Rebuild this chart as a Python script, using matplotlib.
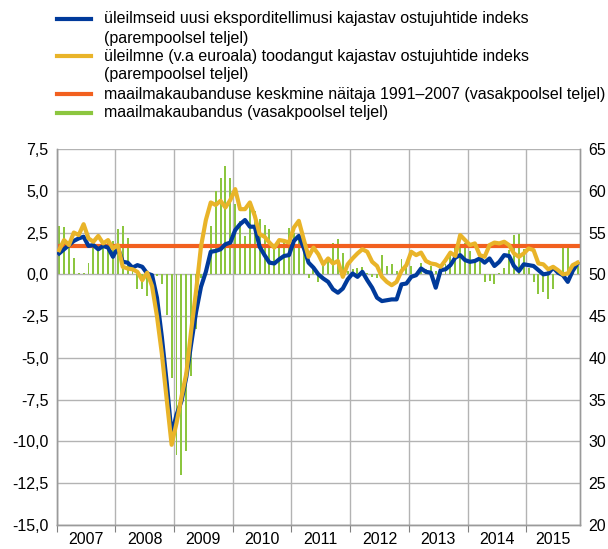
import numpy as np
import matplotlib
matplotlib.use("Agg")
import matplotlib.pyplot as plt
from matplotlib.lines import Line2D

plt.rcParams['font.family'] = ['Liberation Sans', 'DejaVu Sans']

# monthly data, Jan 2007 - Nov 2015
years = ["2007", "2008", "2009", "2010", "2011", "2012", "2013", "2014", "2015"]

# world trade (left axis)
trade = [2.9, 2.85, 1.7, 1.0, 0.1, 0.1, 0.7, 1.7, 1.5, 1.8, 2.0, 2.0,
         2.7, 2.9, 2.2, 0.5, -0.85, -0.85, -1.3, -0.2, -0.1, -0.55, -2.45, -6.2,
         -10.8, -12.0, -10.6, -6.1, -3.3, -0.2, 0.4, 2.9, 5.0, 5.75, 6.5, 5.75,
         4.2, 3.2, 2.3, 4.4, 3.8, 3.3, 2.95, 2.7, 1.6, 2.0, 2.0, 2.75,
         2.5, 2.1, 1.7, -0.2, 0.35, -0.45, 0.6, 1.0, 1.85, 2.1, 1.25, 0.2,
         0.3, 0.4, 0.45, 0.1, -0.15, -0.2, 1.15, 0.5, 0.6, 0.2, 0.9, 0.6,
         0.5, 0.1, 0.65, 0.3, 0.5, 0.2, 0.3, 0.6, 1.2, 1.75, 1.55, 1.85,
         1.4, 0.8, 1.2, -0.45, -0.4, -0.55, 0.1, 0.4, 1.45, 2.35, 2.4, 1.5,
         0.4, -0.45, -1.15, -1.05, -1.5, -0.9, 0.2, 1.8, 1.6, 0.3, 0.5]

# average world trade 1991-2007 (left axis)
trade_avg = 1.7

# PMI new export orders (right axis)
pmi_export = [52.5, 53.0, 53.5, 54.0, 54.3, 54.5, 53.4, 53.5, 53.0, 53.4, 53.2, 52.1,
              53.2, 51.5, 51.4, 50.8, 51.1, 50.9, 50.1, 49.9, 47.2, 42.5, 37.0, 30.8,
              33.2, 34.8, 37.7, 41.7, 45.5, 48.5, 50.3, 52.7, 52.8, 53.0, 53.6, 53.8,
              55.3, 56.0, 56.5, 55.7, 55.7, 53.3, 52.3, 51.4, 51.3, 51.8, 52.2, 52.3,
              54.0, 54.6, 53.2, 51.4, 50.8, 50.0, 49.5, 49.1, 48.2, 47.8, 48.3, 49.4,
              50.1, 49.7, 50.3, 49.3, 48.4, 47.2, 46.8, 46.9, 47.0, 47.0, 48.8, 48.9,
              49.7, 49.9, 50.7, 50.3, 50.2, 48.4, 50.5, 50.6, 51.1, 52.0, 52.3, 51.7,
              51.5, 51.6, 51.9, 51.4, 51.9, 51.0, 51.5, 52.3, 52.2, 51.0, 50.4, 51.2,
              51.1, 51.0, 50.5, 50.0, 50.1, 50.8, 50.2, 49.9, 49.1, 50.4, 51.3]

# PMI output excl. euro area (right axis)
pmi_output = [52.9, 54.1, 53.5, 55.0, 54.7, 56.0, 54.3, 53.9, 54.6, 53.7, 54.1, 53.1,
              53.5, 50.9, 50.7, 50.6, 50.3, 49.3, 50.2, 48.6, 45.0, 40.5, 35.0, 29.6,
              32.2, 35.3, 38.1, 43.3, 48.0, 53.3, 56.5, 58.6, 58.3, 58.8, 58.0, 58.9,
              60.2, 57.8, 57.8, 58.6, 57.0, 54.8, 54.5, 53.8, 53.2, 54.1, 54.0, 53.8,
              55.6, 56.4, 54.2, 52.1, 53.2, 52.4, 51.2, 51.9, 51.3, 51.6, 49.7, 51.2,
              51.9, 52.5, 53.0, 52.7, 51.5, 51.0, 49.7, 49.1, 48.7, 49.1, 50.4, 51.1,
              52.7, 52.3, 52.6, 51.6, 51.3, 51.2, 50.9, 51.7, 52.6, 52.2, 54.7, 54.1,
              53.5, 53.7, 52.3, 52.1, 53.5, 53.8, 53.7, 53.9, 53.5, 52.5, 52.1, 52.5,
              53.1, 52.9, 51.3, 51.2, 50.6, 50.9, 50.5, 50.0, 50.1, 51.1, 51.4]

left_ticks = [-15, -12.5, -10, -7.5, -5, -2.5, 0, 2.5, 5, 7.5]
left_labels = ["-15,0", "-12,5", "-10,0", "-7,5", "-5,0", "-2,5", "0,0", "2,5", "5,0", "7,5"]
right_ticks = [20, 25, 30, 35, 40, 45, 50, 55, 60, 65]

legend_labels = [
    "üleilmseid uusi eksporditellimusi kajastav ostujuhtide indeks\n(parempoolsel teljel)",
    "üleilmne (v.a euroala) toodangut kajastav ostujuhtide indeks\n(parempoolsel teljel)",
    "maailmakaubanduse keskmine näitaja 1991–2007 (vasakpoolsel teljel)",
    "maailmakaubandus (vasakpoolsel teljel)",
]

c_blue = "#003a9b"
c_yellow = "#e9b429"
c_orange = "#f2601f"
c_green = "#8cc63f"
c_grid = "#b3b3b3"

fs = 11.5
n = len(trade)
x = np.arange(n)

fig = plt.figure(figsize=(6.08, 5.49), dpi=100)
ax = fig.add_axes([56.7 / 608, 1 - 525 / 549, (580 - 56.7) / 608, (525 - 149) / 549])
ax2 = ax.twinx()

ax.bar(x, trade, width=0.4, color=c_green, zorder=2)
ax.axhline(trade_avg, color=c_orange, lw=3, zorder=3)
ax2.plot(x, pmi_export, color=c_blue, lw=3, solid_joinstyle="round", zorder=4)
ax2.plot(x, pmi_output, color=c_yellow, lw=3, solid_joinstyle="round", zorder=5)

ax.set_xlim(-0.5, n - 0.5)
ax.set_ylim(-15, 7.5)
ax2.set_ylim(20, 65)

ax.set_yticks(left_ticks)
ax.set_yticklabels(left_labels, fontsize=fs)
ax2.set_yticks(right_ticks)
ax2.set_yticklabels([str(t) for t in right_ticks], fontsize=fs)

bounds = np.arange(len(years)) * 12 - 0.5
centers = [(b + min(b + 12, n - 0.5)) / 2 for b in bounds]
ax.set_xticks(bounds)
ax.set_xticklabels([])
ax.set_xticks(centers, minor=True)
ax.set_xticklabels(years, minor=True, fontsize=fs)
ax.tick_params(axis="x", which="major", length=5, color="#808080", direction="out")
ax.tick_params(axis="x", which="minor", length=0, pad=5)
ax.tick_params(axis="y", length=0, pad=6)
ax2.tick_params(axis="y", length=0, pad=6)

ax.grid(True, axis="both", which="major", color=c_grid, lw=1, zorder=0)
ax.set_axisbelow(True)

for a in (ax, ax2):
    a.spines["top"].set_visible(False)
    for s in ("left", "right", "bottom"):
        a.spines[s].set_color("#9a9a9a")
        a.spines[s].set_linewidth(1)

# legend, drawn by hand: one handle per entry, label lines 19 px apart
rows = [19, 56, 94, 113]
colors = [c_blue, c_yellow, c_orange, c_green]
for r, c, lab in zip(rows, colors, legend_labels):
    fy = 1 - r / 549
    fig.add_artist(Line2D([57 / 608, 91 / 608], [fy, fy], color=c, lw=3,
                          transform=fig.transFigure))
    for k, line in enumerate(lab.split("\n")):
        fig.text(104 / 608, 1 - (r + 19 * k) / 549, line, fontsize=fs,
                 va="center", ha="left")

fig.savefig("out.png", dpi=100)
